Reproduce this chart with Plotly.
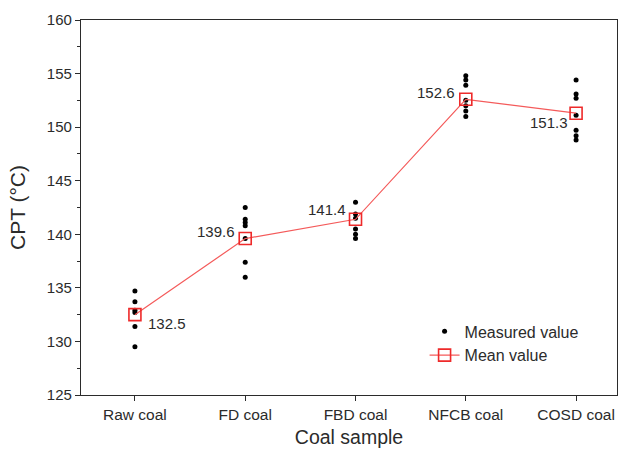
import plotly.graph_objects as go

# Coal samples and their crossing-point temperatures (CPT, °C)
categories = ["Raw coal", "FD coal", "FBD coal", "NFCB coal", "COSD coal"]
raw_coal = [134.7, 133.7, 132.9, 132.7, 131.4, 129.5]
fd_coal = [142.5, 141.4, 141.1, 140.8, 139.6, 137.4, 136.0]
fbd_coal = [143.0, 141.9, 141.5, 140.5, 140.0, 139.6]
nfcb_coal = [154.8, 154.4, 153.9, 152.5, 152.0, 151.5, 151.0]
cosd_coal = [154.4, 153.1, 152.7, 151.1, 149.7, 149.2, 148.8]
mean_values = [132.5, 139.6, 141.4, 152.6, 151.3]

y_ticks = [125, 130, 135, 140, 145, 150, 155, 160]

measured = [raw_coal, fd_coal, fbd_coal, nfcb_coal, cosd_coal]
mx, my = [], []
for i, vals in enumerate(measured):
    mx += [i] * len(vals)
    my += vals

FONT = "Liberation Sans, Arial, sans-serif"
AX = "#2b2b2b"

fig = go.Figure()
fig.add_trace(go.Scatter(
    x=mx, y=my, mode="markers", name="Measured value",
    marker=dict(color="black", size=5),
))
fig.add_trace(go.Scatter(
    x=list(range(len(categories))), y=mean_values, mode="lines+markers",
    name="Mean value",
    line=dict(color="#f45a5a", width=1.2),
    marker=dict(symbol="square-open", size=12, color="#ee2a2a",
                line=dict(width=1.6, color="#ee2a2a")),
))

# mean value labels: (x shift, y shift) in pixels
label_offsets = [(32, -9), (-29, 7), (-29, 10), (-30, 7), (-27, -9)]
for i, (v, (dx, dy)) in enumerate(zip(mean_values, label_offsets)):
    fig.add_annotation(x=i, y=v, text=f"{v:.1f}", showarrow=False,
                       xshift=dx, yshift=dy,
                       font=dict(family=FONT, size=15, color=AX))

fig.update_layout(
    width=629, height=455,
    margin=dict(l=81, r=11, t=20, b=58),
    paper_bgcolor="white", plot_bgcolor="white",
    font=dict(family=FONT, color=AX),
    showlegend=True,
    legend=dict(x=0.641, y=0.215, xanchor="left", yanchor="top",
                bgcolor="rgba(0,0,0,0)", font=dict(size=16, color=AX),
                tracegroupgap=0),
    xaxis=dict(
        range=[-0.489, 4.371], tickmode="array",
        tickvals=list(range(len(categories))), ticktext=categories,
        showgrid=False, zeroline=False, showline=True, linecolor=AX,
        linewidth=1.2, mirror=True, ticks="outside", ticklen=5,
        tickcolor=AX, tickfont=dict(size=15.5, color=AX),
        title=dict(text="Coal sample", font=dict(size=19.5, color=AX),
                   standoff=8),
    ),
    yaxis=dict(
        range=[125, 160], tickmode="array", tickvals=y_ticks,
        showgrid=False, zeroline=False, showline=True, linecolor=AX,
        linewidth=1.2, mirror=True, ticks="outside", ticklen=5,
        tickcolor=AX, tickfont=dict(size=15, color=AX),
        minor=dict(dtick=2.5, ticks="outside", ticklen=3, tickcolor=AX),
        title=dict(text="CPT (°C)", font=dict(size=21, color=AX),
                   standoff=15),
    ),
)

fig.write_html("out.html")
